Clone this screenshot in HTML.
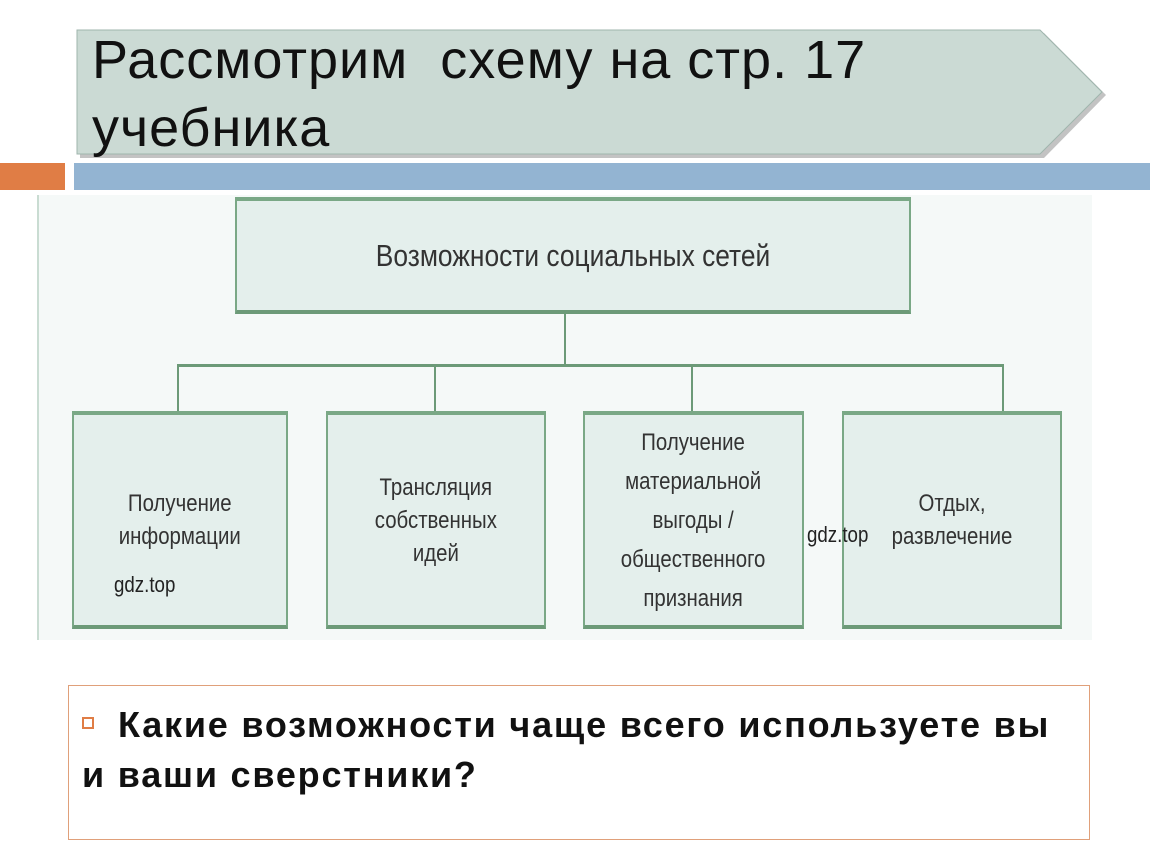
<!DOCTYPE html>
<html><head><meta charset="utf-8"><style>
body{margin:0;width:1150px;height:864px;background:#fff;position:relative;overflow:hidden;font-family:"Liberation Sans","DejaVu Sans",sans-serif}
.a{position:absolute}
.box{position:absolute;background:#e4efec;border:2px solid #7aa886;border-bottom:4px solid #6c9a78;border-top:4px solid #7aa886;box-sizing:border-box;display:flex;align-items:center;justify-content:center;text-align:center;color:#333;font-size:24px;line-height:33px}
.box span{display:inline-block;transform:scaleX(0.85);white-space:nowrap}
.ln{position:absolute;background:#6c9a78}
</style></head><body>
<svg class="a" style="left:0;top:0" width="1150" height="200">
<polygon points="80,33 1044,33 1106,95 1044,158 80,158" fill="#888" opacity="0.5"/>
<polygon points="77,30 1040,30 1102,92 1040,154 77,154" fill="#cbdad4" stroke="#9fb5ad" stroke-width="1"/>
<rect x="0" y="163" width="65" height="27" fill="#e07d45"/>
<rect x="74" y="163" width="1076" height="27" fill="#93b4d2"/>
</svg>
<div class="a" style="left:92px;top:26px;font-size:54px;line-height:68px;letter-spacing:1px;color:#111">Рассмотрим&nbsp; схему на стр. 17<br>учебника</div>
<div class="a" style="left:37px;top:195px;width:1053px;height:445px;background:#f5f9f8;border-left:2px solid #c9dcd2"></div>
<div class="box" style="left:235px;top:197px;width:676px;height:117px;font-size:31px"><span>Возможности социальных сетей</span></div>
<div class="ln" style="left:564px;top:313px;width:2px;height:53px"></div>
<div class="ln" style="left:177px;top:364px;width:827px;height:3px"></div>
<div class="ln" style="left:177px;top:366px;width:2px;height:47px"></div>
<div class="ln" style="left:434px;top:366px;width:2px;height:47px"></div>
<div class="ln" style="left:691px;top:366px;width:2px;height:47px"></div>
<div class="ln" style="left:1002px;top:366px;width:2px;height:47px"></div>
<div class="box" style="left:72px;top:411px;width:216px;height:218px"><span>Получение<br>информации</span></div>
<div class="box" style="left:326px;top:411px;width:220px;height:218px"><span>Трансляция<br>собственных<br>идей</span></div>
<div class="box" style="left:583px;top:411px;width:221px;height:218px;line-height:39px"><span>Получение<br>материальной<br>выгоды /<br>общественного<br>признания</span></div>
<div class="box" style="left:842px;top:411px;width:220px;height:218px"><span>Отдых,<br>развлечение</span></div>
<div class="a" style="left:114px;top:572px;font-size:22px;color:#222;transform:scaleX(0.85);transform-origin:left">gdz.top</div>
<div class="a" style="left:807px;top:522px;font-size:22px;color:#222;transform:scaleX(0.85);transform-origin:left">gdz.top</div>
<div class="a" style="left:68px;top:685px;width:1022px;height:155px;border:1.5px solid #e0a07a;box-sizing:border-box"></div>
<div class="a" style="left:82px;top:717px;width:12px;height:12px;border:2px solid #e07d45;box-sizing:border-box"></div>
<div class="a" style="left:118px;top:700px;font-size:36px;font-weight:bold;letter-spacing:1.8px;line-height:50px;color:#111;white-space:nowrap">Какие возможности чаще всего используете вы</div>
<div class="a" style="left:82px;top:750px;font-size:36px;font-weight:bold;letter-spacing:1.8px;line-height:50px;color:#111;white-space:nowrap">и ваши сверстники?</div>
</body></html>
